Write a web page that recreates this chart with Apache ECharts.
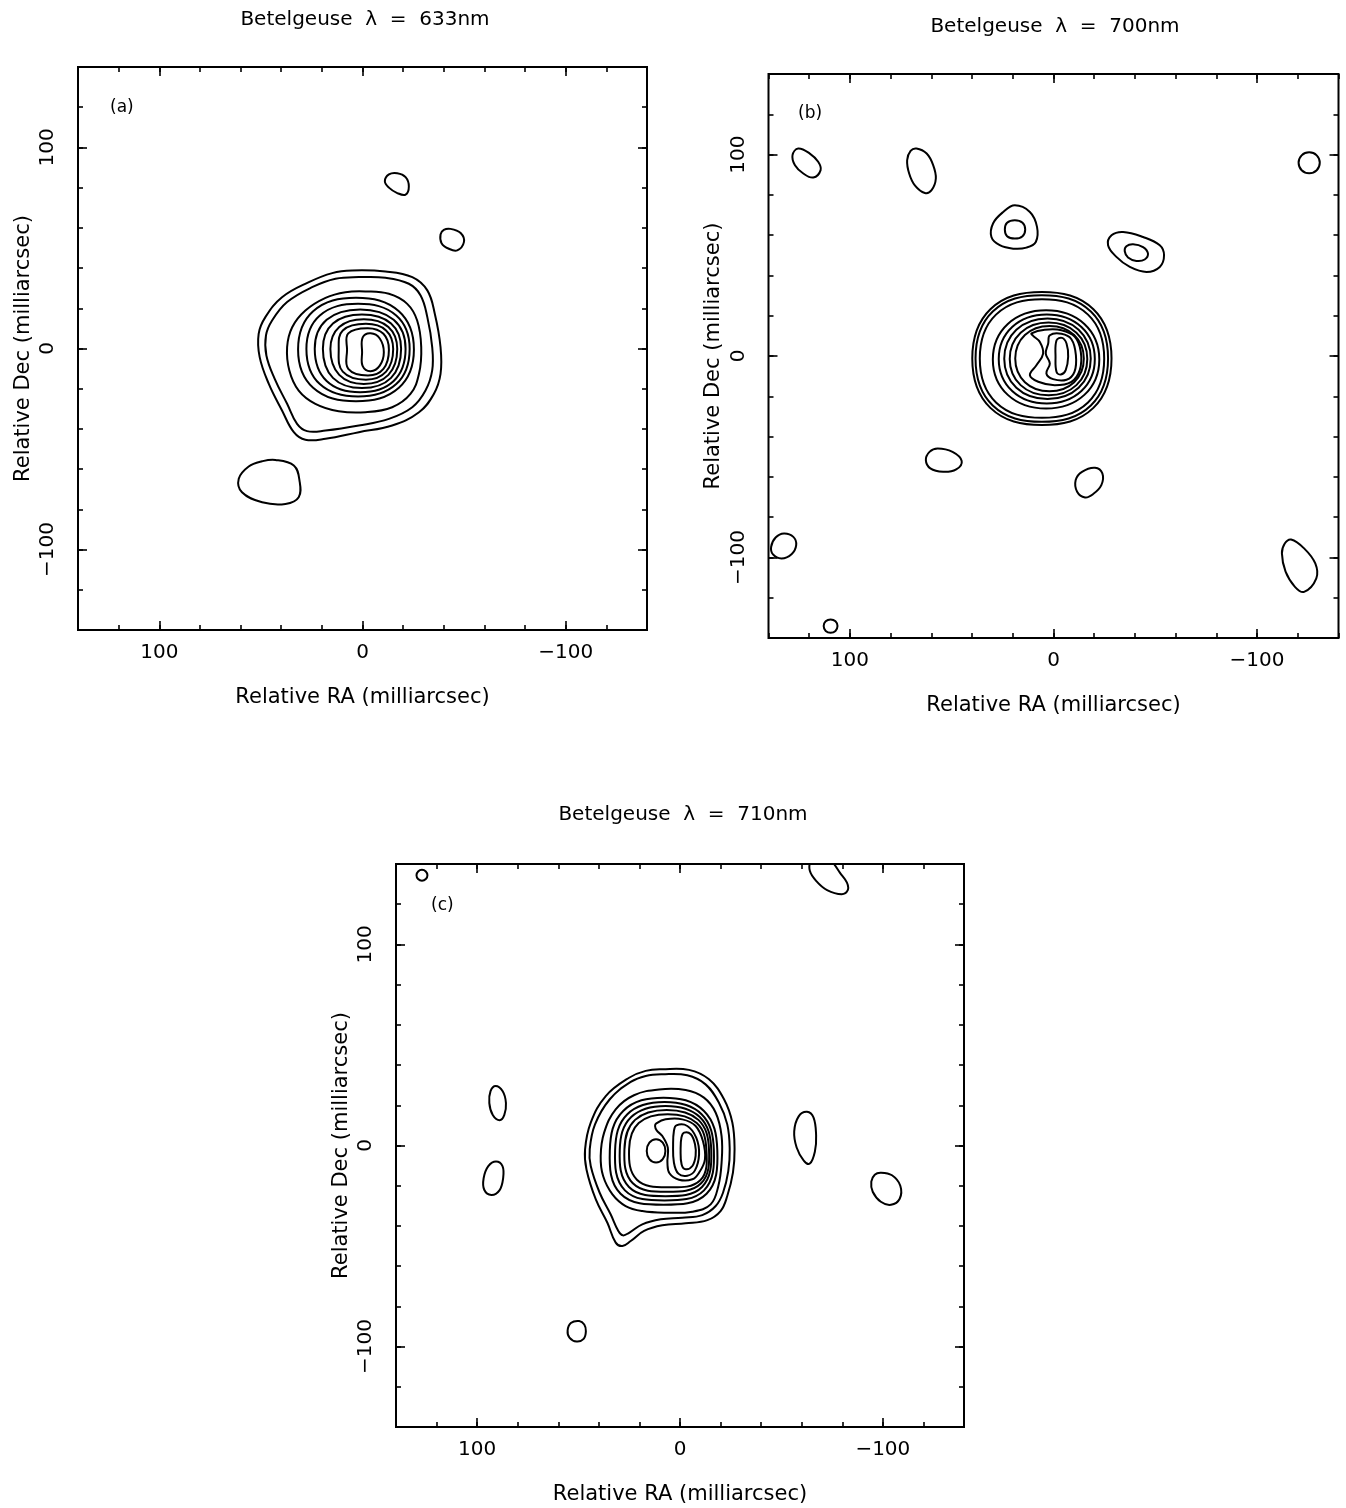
<!DOCTYPE html>
<html><head><meta charset="utf-8">
<script src="https://cdn.jsdelivr.net/npm/echarts@6/dist/echarts.min.js"></script>
<style>html,body{margin:0;padding:0;background:#fff}#chart{width:1346px;height:1508px}</style>
</head><body><div id="chart"></div>
<script>
// ---------- axes / text ----------
const axisRange = [-140, 140];
const minorTickStep = 20;
const majorTickValues = [-100, 0, 100];
const panelTitles = ['Betelgeuse  \u03bb  =  633nm', 'Betelgeuse  \u03bb  =  700nm', 'Betelgeuse  \u03bb  =  710nm'];
const panelTags = ['(a)', '(b)', '(c)'];
const xAxisName = 'Relative RA (milliarcsec)';
const yAxisName = 'Relative Dec (milliarcsec)';

// ---------- contour lines, [RA, Dec] in milliarcsec ----------
// Panel (a) 633nm
const panelA_core = [
  [[5.1,38.8],[-11.3,38.3],[-24.5,35.5],[-31.9,28.9],[-35.6,17.2],[-38.4,0.7],[-38.4,-12.6],[-35.1,-22.6],[-27.8,-31.7],[-14.6,-38.3],[1.8,-41.6],[18.2,-44.9],[28.1,-45.4],[33.8,-41.6],[39.6,-30.8],[46.1,-17.6],[50.6,-4.3],[51.1,7.3],[47.8,15.6],[39.6,25.5],[26.4,33.0],[14.9,37.5]],
  [[1.8,35.5],[-11.3,35.2],[-22.8,32.2],[-28.6,26.4],[-31.9,15.6],[-34.3,0.7],[-34.3,-10.9],[-31.0,-20.9],[-24.5,-29.2],[-13.0,-35.0],[1.8,-38.3],[18.2,-40.8],[27.3,-41.1],[32.2,-37.5],[37.1,-27.5],[43.2,-15.1],[47.3,-3.5],[47.5,6.5],[44.5,13.9],[37.1,23.1],[24.8,30.5],[13.3,34.7]],
  [[-1.5,28.4],[-13.0,27.2],[-22.0,22.2],[-26.9,13.9],[-28.9,0.7],[-27.8,-12.6],[-23.6,-22.6],[-14.6,-29.2],[-1.5,-31.7],[11.7,-31.2],[23.2,-27.5],[31.4,-20.9],[36.0,-10.9],[37.1,0.7],[34.6,10.6],[28.1,18.9],[18.2,25.2],[8.4,28.0]],
  [[31.7,-0.5],[24.3,18.5],[3.2,25.2],[-17.9,18.5],[-25.3,-0.5],[-17.9,-19.5],[3.2,-26.2],[24.3,-19.5]],
  [[27.6,-0.2],[21.0,16.4],[2.2,22.2],[-16.6,16.4],[-23.2,-0.2],[-16.6,-17.7],[2.2,-23.9],[21.0,-17.7]],
  [[23.5,-0.15],[17.65,14.25],[1.15,19.4],[-15.35,14.25],[-21.2,-0.15],[-15.35,-16.2],[1.15,-21.8],[17.65,-16.2]],
  [[19.5,-0.15],[14.55,12.45],[0.25,16.9],[-14.05,12.45],[-19.0,-0.15],[-14.05,-14.6],[0.25,-19.7],[14.55,-14.6]],
  [[15.8,-0.25],[11.45,10.75],[-0.65,14.6],[-12.75,10.75],[-17.1,-0.25],[-12.75,-13.1],[-0.65,-17.6],[11.45,-13.1]],
  [[11.7,-0.3],[9.7,9.0],[-1.7,12.3],[-11.6,9.0],[-15.1,-0.3],[-11.6,-11.5],[-1.7,-15.5],[9.7,-11.5]],
  [[7.6,-0.6],[7.0,7.5],[-2.7,10.1],[-10.3,7.3],[-13.0,-0.6],[-10.3,-10.1],[-2.7,-13.4],[7.0,-10.1]],
  [[0.2,-1.85],[-0.1,5.5],[-4.0,7.6],[-8.5,5.0],[-10.5,-1.85],[-8.5,-8.5],[-4.0,-11.3],[-0.1,-8.8]]
];
const panelA_islands = [
  [[-17.1,87.2],[-21.2,85.2],[-22.8,80.6],[-21.2,76.5],[-17.1,77.3],[-13.0,80.0],[-11.0,83.2],[-13.0,86.6]],
  [[-43.3,59.5],[-48.3,57.4],[-49.9,52.9],[-46.6,48.8],[-42.5,49.6],[-38.9,52.4],[-38.4,56.7],[-40.0,59.0]],
  [[42.9,-55.4],[33.8,-58.2],[31.0,-65.7],[31.4,-74.0],[37.9,-77.3],[49.4,-76.5],[59.3,-71.5],[60.9,-64.8],[56.0,-58.7],[49.4,-56.1]]
];
// Panel (b) 700nm
const panelB_core = [
  [[39.9,-1.25],[31.0,23.25],[5.7,31.8],[-19.6,23.25],[-28.5,-1.25],[-19.6,-25.75],[5.7,-34.3],[31.0,-25.75]],
  [[38.3,-1.25],[29.85,22.05],[5.75,30.2],[-18.35,22.05],[-26.8,-1.25],[-18.35,-24.55],[5.75,-32.7],[29.85,-24.55]],
  [[36.2,-1.25],[28.25,20.55],[5.65,28.2],[-16.95,20.55],[-24.9,-1.25],[-16.95,-23.05],[5.65,-30.7],[28.25,-23.05]],
  [[29.8,-1.7],[22.45,15.9],[3.65,22.7],[-15.15,15.9],[-22.5,-1.7],[-15.15,-19.3],[3.65,-26.1],[22.45,-19.3]],
  [[26.9,-1.5],[20.3,14.4],[3.3,20.6],[-13.7,14.4],[-20.3,-1.5],[-13.7,-17.4],[3.3,-23.6],[20.3,-17.4]],
  [[24.2,-1.4],[18.25,13.0],[2.95,18.6],[-12.35,13.0],[-18.3,-1.4],[-12.35,-15.8],[2.95,-21.4],[18.25,-15.8]],
  [[21.5,-1.45],[16.15,11.55],[2.45,16.6],[-11.25,11.55],[-16.6,-1.45],[-11.25,-14.45],[2.45,-19.5],[16.15,-14.45]],
  [[18.8,-1.3],[14.05,10.4],[1.95,14.9],[-10.15,10.4],[-14.9,-1.3],[-10.15,-13.0],[1.95,-17.5],[14.05,-13.0]],
  [[10.8,11.2],[4.3,13.0],[-3.9,12.8],[-10.5,9.5],[-13.4,2.1],[-12.9,-7.0],[-8.8,-12.8],[-0.6,-14.5],[7.5,-12.8],[11.6,-9.5],[8.4,-4.6],[5.1,1.2],[6.7,7.0],[10.0,10.0]],
  [[1.8,10.3],[-3.9,11.0],[-8.8,8.3],[-11.0,0.4],[-10.3,-7.9],[-6.4,-11.8],[0.2,-11.5],[3.5,-8.7],[1.8,-3.7],[3.8,1.2],[2.6,6.2]],
  [[-1.5,7.8],[-4.2,9.0],[-6.4,6.2],[-7.2,-0.4],[-6.0,-7.0],[-3.6,-9.2],[-1.5,-7.9],[-1.0,-0.4]]
];
const panelB_islands = [
  [[125.4,103.0],[119.7,100.5],[115.6,96.4],[114.4,92.3],[118.0,88.6],[122.9,90.6],[127.0,94.7],[128.2,99.7]],
  [[67.3,103.0],[62.3,100.5],[59.1,94.7],[57.8,88.1],[59.9,82.3],[63.2,80.9],[68.1,84.7],[70.9,90.6],[71.9,97.2],[70.2,101.8]],
  [[19.0,74.8],[11.6,71.5],[8.1,64.1],[8.7,56.6],[13.3,53.8],[19.8,53.3],[26.4,55.0],[30.5,59.1],[29.7,65.8],[24.7,71.5]],
  [[19.0,67.4],[15.2,66.1],[13.9,62.8],[15.2,59.5],[19.0,58.3],[22.8,59.5],[23.9,62.8],[22.8,66.1]],
  [[-34.2,61.6],[-44.0,59.1],[-52.2,55.0],[-54.3,50.0],[-52.2,44.2],[-45.7,41.7],[-37.5,44.2],[-30.9,49.2],[-26.8,55.0],[-28.5,59.9]],
  [[-39.1,55.5],[-44.0,54.1],[-46.4,50.9],[-44.8,47.9],[-40.7,47.2],[-36.6,48.9],[-35.0,52.0],[-35.8,54.5]],
  [[-125.6,101.1],[-129.3,99.6],[-130.8,95.9],[-129.3,92.2],[-125.6,90.7],[-121.9,92.2],[-120.4,95.9],[-121.9,99.6]],
  [[56.9,-45.9],[49.6,-47.6],[45.1,-52.1],[47.8,-56.3],[54.2,-57.5],[60.5,-55.8],[62.7,-51.7],[60.9,-47.6]],
  [[-20.4,-55.5],[-24.0,-58.3],[-23.5,-64.1],[-19.4,-68.6],[-15.5,-70.2],[-11.6,-67.4],[-10.9,-61.6],[-14.0,-57.5]],
  [[132.4,-88.1],[127.8,-89.8],[126.4,-93.9],[128.7,-98.4],[133.6,-100.5],[137.8,-98.5],[138.7,-94.7],[136.5,-90.1]],
  [[109.5,-130.8],[107.1,-131.7],[106.1,-134.1],[107.1,-136.5],[109.5,-137.4],[111.9,-136.5],[112.9,-134.1],[111.9,-131.7]],
  [[-116.7,-91.1],[-123.1,-95.5],[-128.6,-103.0],[-129.1,-110.4],[-123.1,-117.1],[-118.6,-114.6],[-114.0,-107.1],[-112.2,-98.0],[-113.6,-93.1]]
];
// Panel (c) 710nm
const panelC_core = [
  [[8.7,37.9],[-4.4,37.6],[-14.3,32.9],[-21.7,23.0],[-25.8,11.4],[-26.9,-1.9],[-26.1,-13.5],[-23.3,-25.1],[-20.0,-32.6],[-13.5,-37.1],[-2.8,-38.7],[8.7,-39.7],[17.7,-42.5],[24.3,-47.5],[28.4,-50.0],[31.7,-48.3],[35.8,-38.4],[41.5,-26.8],[46.1,-11.9],[46.8,-1.9],[44.0,11.4],[36.6,24.6],[25.1,33.7],[16.9,37.1]],
  [[8.7,35.4],[-3.6,34.9],[-12.6,30.4],[-19.2,21.3],[-23.3,10.5],[-24.5,-1.9],[-23.8,-12.7],[-21.2,-23.5],[-17.6,-30.1],[-11.0,-34.6],[-1.1,-35.9],[9.5,-36.7],[18.6,-39.2],[25.1,-43.4],[28.1,-44.7],[30.4,-42.5],[34.2,-34.2],[39.6,-23.5],[44.0,-10.2],[44.5,-1.9],[41.9,10.5],[34.6,23.0],[24.3,31.6],[16.9,34.6]],
  [[10.3,27.9],[-2.8,27.6],[-11.8,23.8],[-17.6,16.3],[-20.5,4.7],[-20.5,-8.5],[-18.9,-20.1],[-15.1,-29.3],[-6.1,-32.9],[7.1,-33.4],[18.6,-32.6],[26.8,-30.1],[33.3,-24.3],[37.9,-15.2],[39.1,-5.2],[37.4,6.4],[31.7,18.0],[22.7,25.0]],
  [[34.6,-2.5],[28.0,17.2],[8.1,23.8],[-11.8,17.2],[-18.4,-2.5],[-13.1,-24.0],[8.1,-29.5],[29.3,-24.0]],
  [[32.0,-2.45],[25.95,15.55],[7.65,21.6],[-10.65,15.55],[-16.7,-2.45],[-11.85,-22.3],[7.65,-27.3],[27.15,-22.3]],
  [[29.7,-2.3],[24.05,14.2],[7.15,19.7],[-9.75,14.2],[-15.4,-2.3],[-10.85,-20.6],[7.15,-25.2],[25.15,-20.6]],
  [[27.4,-2.05],[22.15,12.75],[6.55,17.7],[-9.05,12.75],[-14.3,-2.05],[-10.4,-18.8],[6.55,-23.0],[23.25,-18.8]],
  [[25.1,-1.9],[20.35,11.15],[6.05,15.5],[-8.25,11.15],[-13.0,-1.9],[-10.0,-17.3],[6.05,-20.8],[21.25,-17.0]],
  [[11.7,11.0],[7.1,13.0],[-1.1,13.0],[-7.7,9.7],[-11.3,2.2],[-12.3,-6.9],[-9.4,-13.5],[-6.1,-16.8],[0.5,-17.0],[5.2,-13.8],[6.2,-8.5],[6.0,-1.1],[8.7,4.7],[11.5,7.5],[12.3,9.7]],
  [[1.8,10.0],[-3.6,9.7],[-8.0,3.9],[-9.4,-4.4],[-7.3,-12.5],[-3.6,-15.0],[0.8,-14.0],[3.0,-8.5],[3.4,0.6],[3.0,7.2]],
  [[-2.0,6.4],[-5.3,5.6],[-7.4,0.6],[-7.7,-5.2],[-6.1,-10.2],[-2.8,-11.8],[-0.8,-9.4],[-0.3,-1.9],[-0.7,3.9]],
  [[11.8,3.1],[8.5,1.4],[7.2,-2.7],[8.5,-6.8],[11.8,-8.5],[15.1,-6.8],[16.4,-2.7],[15.1,1.4]]
];
const panelC_islands = [
  [[127.2,137.1],[125.3,136.3],[124.5,134.4],[125.3,132.5],[127.2,131.7],[129.1,132.5],[129.9,134.4],[129.1,136.3]],
  [[-64.4,141.5],[-64.0,136.6],[-67.1,131.6],[-72.5,127.0],[-79.7,125.0],[-82.7,127.0],[-82.3,130.7],[-78.8,135.7],[-76.0,139.9],[-73.3,143.2],[-68.0,146.0]],
  [[90.9,29.6],[87.4,27.0],[85.8,21.1],[86.6,15.2],[88.9,12.6],[92.3,15.2],[94.0,21.1],[93.4,27.0]],
  [[90.7,-8.0],[87.5,-10.3],[87.2,-16.3],[89.0,-22.3],[93.0,-24.6],[96.5,-22.0],[96.8,-16.3],[94.5,-10.3]],
  [[-62.6,16.8],[-65.8,14.0],[-67.1,5.0],[-66.5,-3.0],[-64.0,-9.0],[-61.0,-7.5],[-57.5,-1.0],[-56.3,7.0],[-58.5,14.5]],
  [[-99.0,-13.5],[-104.5,-14.8],[-108.6,-20.0],[-108.3,-26.5],[-104.0,-29.5],[-99.0,-28.0],[-95.0,-23.0],[-94.3,-18.0],[-96.0,-14.5]],
  [[49.7,-87.3],[47.2,-89.0],[46.4,-92.4],[47.5,-96.2],[51.0,-97.5],[54.5,-95.5],[55.4,-92.0],[53.8,-88.3]]
];

// ---------- layout ----------
const FONT = '"DejaVu Sans", Verdana, sans-serif';
const grids = [
  {left: 78, top: 67, width: 569, height: 563},
  {left: 768.5, top: 74, width: 570, height: 564},
  {left: 396, top: 864, width: 568, height: 563}
];
const titlePos = [[365, 20], [1055, 27], [683, 815]];
const tagPos = [[110, 108], [798, 114], [431, 906]];

const labelFmt = v => v === 0 ? '0' : (v < 0 ? '\u2212' + Math.abs(v) : String(v));
const tickStyle = {color: '#000', width: 1.6};

function buildAxes(gi) {
  const common = {type: 'value', gridIndex: gi, min: axisRange[0], max: axisRange[1], interval: minorTickStep,
    splitLine: {show: false}, axisLine: {show: false, onZero: false}};
  const txt = {fontFamily: FONT, fontSize: 20, color: '#000'};
  const nameTxt = {fontFamily: FONT, fontSize: 21, color: '#000'};
  const minor = {inside: true, length: 5, lineStyle: tickStyle};
  const major = {inside: true, length: 9, customValues: majorTickValues, lineStyle: tickStyle};
  const x = [
    Object.assign({}, common, {position: 'bottom', inverse: true, axisTick: minor,
      axisLabel: Object.assign({customValues: majorTickValues, formatter: labelFmt, margin: 13}, txt),
      name: xAxisName, nameLocation: 'middle', nameGap: 57, nameTextStyle: nameTxt}),
    Object.assign({}, common, {position: 'bottom', inverse: true, axisTick: major, axisLabel: {show: false}}),
    Object.assign({}, common, {position: 'top', inverse: true, axisTick: minor, axisLabel: {show: false}}),
    Object.assign({}, common, {position: 'top', inverse: true, axisTick: major, axisLabel: {show: false}})
  ];
  const y = [
    Object.assign({}, common, {position: 'left', axisTick: minor,
      axisLabel: Object.assign({customValues: majorTickValues, formatter: labelFmt, margin: 20, rotate: 90}, txt),
      name: yAxisName, nameLocation: 'middle', nameGap: 44, nameTextStyle: nameTxt}),
    Object.assign({}, common, {position: 'left', axisTick: major, axisLabel: {show: false}}),
    Object.assign({}, common, {position: 'right', axisTick: minor, axisLabel: {show: false}}),
    Object.assign({}, common, {position: 'right', axisTick: major, axisLabel: {show: false}})
  ];
  return {x, y};
}

function contourSeries(gi, contours) {
  return {
    type: 'custom', coordinateSystem: 'cartesian2d', xAxisIndex: gi * 4, yAxisIndex: gi * 4,
    clip: true, silent: true, animation: false,
    data: contours.map((c, i) => [c[0][0], c[0][1], i]),
    encode: {x: 0, y: 1},
    renderItem: function (params, api) {
      const c = contours[params.dataIndex];
      return {
        type: 'polygon',
        shape: {points: c.map(p => api.coord(p)), smooth: 0.4},
        style: {fill: 'none', stroke: '#000', lineWidth: 2}
      };
    }
  };
}

const xAxes = [], yAxes = [];
for (let g = 0; g < 3; g++) { const a = buildAxes(g); xAxes.push(...a.x); yAxes.push(...a.y); }

const graphics = [];
for (let g = 0; g < 3; g++) {
  graphics.push({type: 'text', x: titlePos[g][0], y: titlePos[g][1],
    style: {text: panelTitles[g], font: '20px ' + FONT, fill: '#000', textAlign: 'center', textVerticalAlign: 'middle'}});
  graphics.push({type: 'text', x: tagPos[g][0], y: tagPos[g][1],
    style: {text: panelTags[g], font: '17px ' + FONT, fill: '#000', textAlign: 'left', textVerticalAlign: 'middle'}});
}

const chart = echarts.init(document.getElementById('chart'), null, {renderer: 'canvas'});
chart.setOption({
  backgroundColor: '#fff',
  animation: false,
  grid: grids.map(g => Object.assign({show: true, borderColor: '#000', borderWidth: 2, backgroundColor: 'transparent'}, g)),
  xAxis: xAxes,
  yAxis: yAxes,
  graphic: graphics,
  series: [
    contourSeries(0, panelA_core), contourSeries(0, panelA_islands),
    contourSeries(1, panelB_core), contourSeries(1, panelB_islands),
    contourSeries(2, panelC_core), contourSeries(2, panelC_islands)
  ]
});
</script></body></html>
